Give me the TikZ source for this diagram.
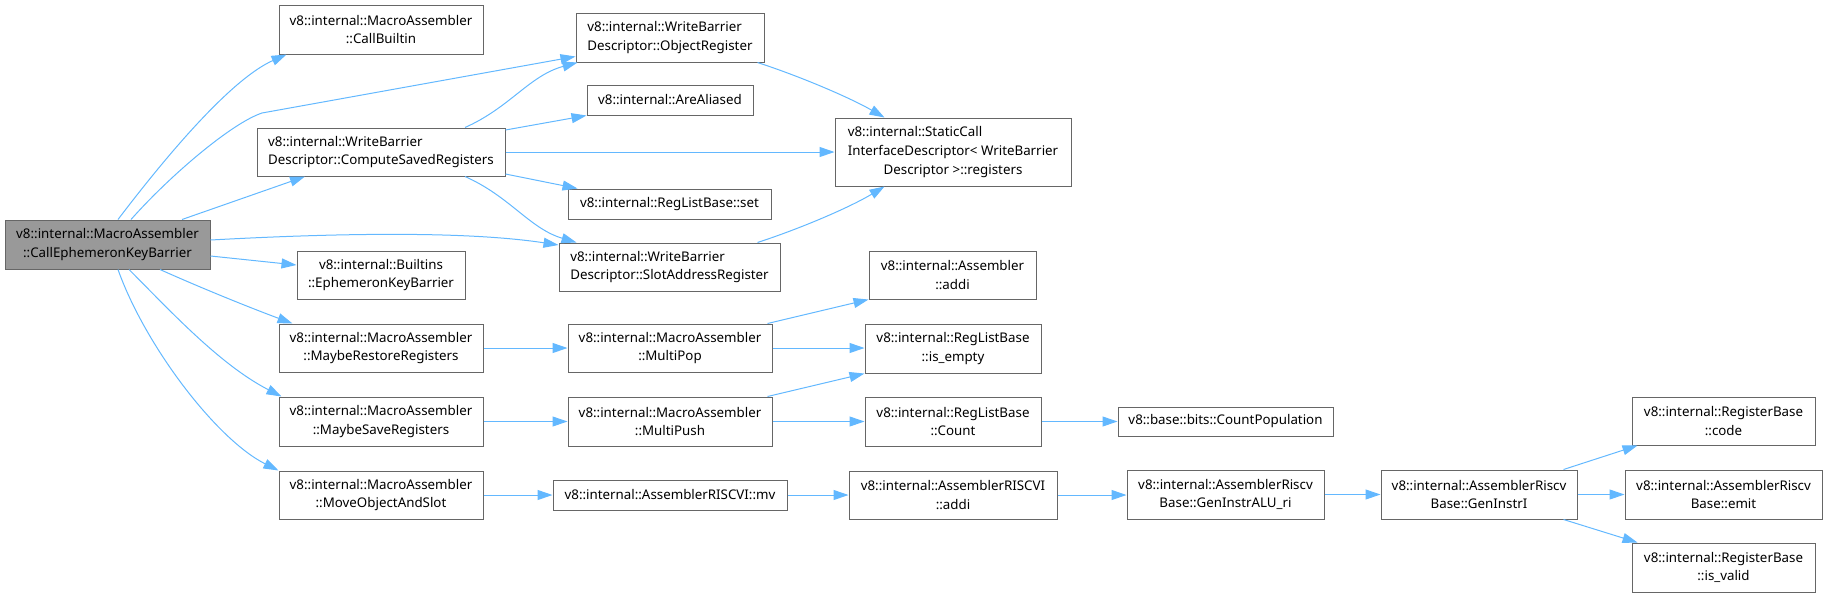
\documentclass[tikz,border=0pt]{standalone}
\usepackage{fontspec}
\setmainfont{Noto Sans}
\usetikzlibrary{arrows.meta,calc}
\definecolor{edgec}{HTML}{63B8FF}
\definecolor{bordc}{HTML}{666666}
\definecolor{rootc}{HTML}{999999}
\begin{document}
\begin{tikzpicture}[x=1pt,y=-1pt,
 box/.style={draw=bordc, line width=1pt, fill=white, inner sep=0pt, align=center,
   font=\fontsize{13.33pt}{18.7pt}\selectfont},
 edge/.style={draw=edgec, line width=1pt, -{Triangle[length=15pt,width=10pt]}},
]
\useasboundingbox (0,0) rectangle (1827,598);

% rank 0
\node[box, fill=rootc, minimum width=205pt, minimum height=49pt] (root) at (107.5,244.5) {v8::internal::MacroAssembler\\::CallEphemeronKeyBarrier};
% rank 1
\node[box, minimum width=204pt, minimum height=49pt] (cb) at (381,29.5) {v8::internal::MacroAssembler\\::CallBuiltin};
\node[box, align=left, minimum width=248pt, minimum height=48pt] (csr) at (381,152) {v8::internal::WriteBarrier\\Descriptor::ComputeSavedRegisters};
\node[box, minimum width=168pt, minimum height=48pt] (bekb) at (381,275) {v8::internal::Builtins\\::EphemeronKeyBarrier};
\node[box, minimum width=204pt, minimum height=48pt] (mr) at (381,348) {v8::internal::MacroAssembler\\::MaybeRestoreRegisters};
\node[box, minimum width=204pt, minimum height=49pt] (ms) at (381,421.5) {v8::internal::MacroAssembler\\::MaybeSaveRegisters};
\node[box, minimum width=204pt, minimum height=48pt] (mo) at (381,495) {v8::internal::MacroAssembler\\::MoveObjectAndSlot};
% rank 2
\node[box, align=left, minimum width=188pt, minimum height=49pt] (objr) at (670,37.5) {v8::internal::WriteBarrier\\Descriptor::ObjectRegister};
\node[box, minimum width=166pt, minimum height=30pt] (aa) at (670,100) {v8::internal::AreAliased};
\node[box, minimum width=203pt, minimum height=30pt] (set) at (669.5,204) {v8::internal::RegListBase::set};
\node[box, align=left, minimum width=221pt, minimum height=48pt] (sar) at (669.5,267) {v8::internal::WriteBarrier\\Descriptor::SlotAddressRegister};
\node[box, minimum width=204pt, minimum height=48pt] (mp) at (670,348) {v8::internal::MacroAssembler\\::MultiPop};
\node[box, minimum width=204pt, minimum height=49pt] (mpu) at (670,421.5) {v8::internal::MacroAssembler\\::MultiPush};
\node[box, minimum width=234pt, minimum height=30pt] (mv) at (670,495) {v8::internal::AssemblerRISCVI::mv};
% rank 3
\node[box, minimum width=236pt, minimum height=68pt] (sc) at (953,152) {\rlap{v8::internal::StaticCall}\phantom{InterfaceDescriptor< WriteBarrier}\\InterfaceDescriptor< WriteBarrier\\Descriptor >::registers};
\node[box, minimum width=167pt, minimum height=48pt] (aaddi) at (952.5,275) {v8::internal::Assembler\\::addi};
\node[box, minimum width=176pt, minimum height=49pt] (ie) at (953,348.5) {v8::internal::RegListBase\\::is\_empty};
\node[box, minimum width=176pt, minimum height=49pt] (cnt) at (953,421.5) {v8::internal::RegListBase\\::Count};
\node[box, minimum width=208pt, minimum height=48pt] (raddi) at (953,495) {v8::internal::AssemblerRISCVI\\::addi};
% rank 4
\node[box, minimum width=215pt, minimum height=29pt] (cp) at (1225.5,421.5) {v8::base::bits::CountPopulation};
\node[box, minimum width=197pt, minimum height=49pt] (alu) at (1225.5,494.5) {v8::internal::AssemblerRiscv\\Base::GenInstrALU\_ri};
% rank 5
\node[box, minimum width=196pt, minimum height=49pt] (gi) at (1479,494.5) {v8::internal::AssemblerRiscv\\Base::GenInstrI};
% rank 6
\node[box, minimum width=183pt, minimum height=48pt] (code) at (1723.5,421) {v8::internal::RegisterBase\\::code};
\node[box, minimum width=197pt, minimum height=49pt] (emit) at (1723.5,494.5) {v8::internal::AssemblerRiscv\\Base::emit};
\node[box, minimum width=183pt, minimum height=49pt] (iv) at (1723.5,567.5) {v8::internal::RegisterBase\\::is\_valid};

\coordinate (k2) at (262,113);

% edges from root
\draw[edge] ([xshift=10.5pt]root.north) .. controls +(57,-75) and +(-52,23) .. ([xshift=8pt]cb.south west);
\draw[edge] ([xshift=23.5pt]root.north) .. controls +(40,-45) and +(-30,10) .. (k2) -- ([yshift=-19pt]objr.west);
\draw[edge] ([xshift=74.5pt]root.north) -- ([xshift=-76pt]csr.south);
\draw[edge] ([yshift=4.5pt]root.east) .. controls +(110,-6) and +(-99,-15) .. ([yshift=22pt]sar.west);
\draw[edge] ([yshift=-11.5pt]root.east) -- ([yshift=10pt]bekb.west);
\draw[edge] ([xshift=52.5pt]root.south) .. controls +(40,18) and +(-43,-16) .. ([xshift=14pt]mr.north west);
\draw[edge] ([xshift=21.5pt]root.south) .. controls +(41,41) and +(-62,-32) .. ([xshift=3pt]ms.north west);
\draw[edge] ([xshift=10.5pt]root.south) .. controls +(27,76) and +(-62,-31) .. (mo.north west);

% edges from ComputeSavedRegisters
\draw[edge] ([xshift=84pt]csr.north) .. controls +(45,-20) and +(-48,13) .. ([xshift=2pt]objr.south west);
\draw[edge] ([yshift=22pt]csr.east) -- (aa.south west);
\draw[edge] (csr.east) -- (csr.east -| sc.west);
\draw[edge] ([yshift=-22pt]csr.east) -- ([xshift=10pt]set.north west);
\draw[edge] ([xshift=84pt]csr.south) .. controls +(45,20) and +(-47,-14) .. ([xshift=18pt]sar.north west);

% into StaticCall
\draw[edge] ([xshift=-7pt]objr.south east) .. controls +(43,14) and +(-35,-20) .. ([xshift=50pt]sc.north west);
\draw[edge] ([xshift=-23pt]sar.north east) .. controls +(43,-14) and +(-35,21) .. ([xshift=50pt]sc.south west);

% horizontal chains
\draw[edge] (mr.east) -- (mr.east -| mp.west);
\draw[edge] (ms.east) -- (ms.east -| mpu.west);
\draw[edge] (mo.east) -- (mo.east -| mv.west);
\draw[edge] ([xshift=-5pt]mp.north east) -- (aaddi.south west);
\draw[edge] (mp.east) -- (mp.east -| ie.west);
\draw[edge] ([xshift=-5pt]mpu.north east) -- (ie.south west);
\draw[edge] (mpu.east) -- (mpu.east -| cnt.west);
\draw[edge] (cnt.east) -- (cnt.east -| cp.west);
\draw[edge] (mv.east) -- (mv.east -| raddi.west);
\draw[edge] (raddi.east) -- (raddi.east -| alu.west);
\draw[edge] (alu.east) -- (alu.east -| gi.west);
\draw[edge] ([xshift=-14pt]gi.north east) -- ([xshift=6pt]code.south west);
\draw[edge] (gi.east) -- (gi.east -| emit.west);
\draw[edge] ([xshift=-14pt]gi.south east) -- ([xshift=6pt]iv.north west);
\end{tikzpicture}
\end{document}
